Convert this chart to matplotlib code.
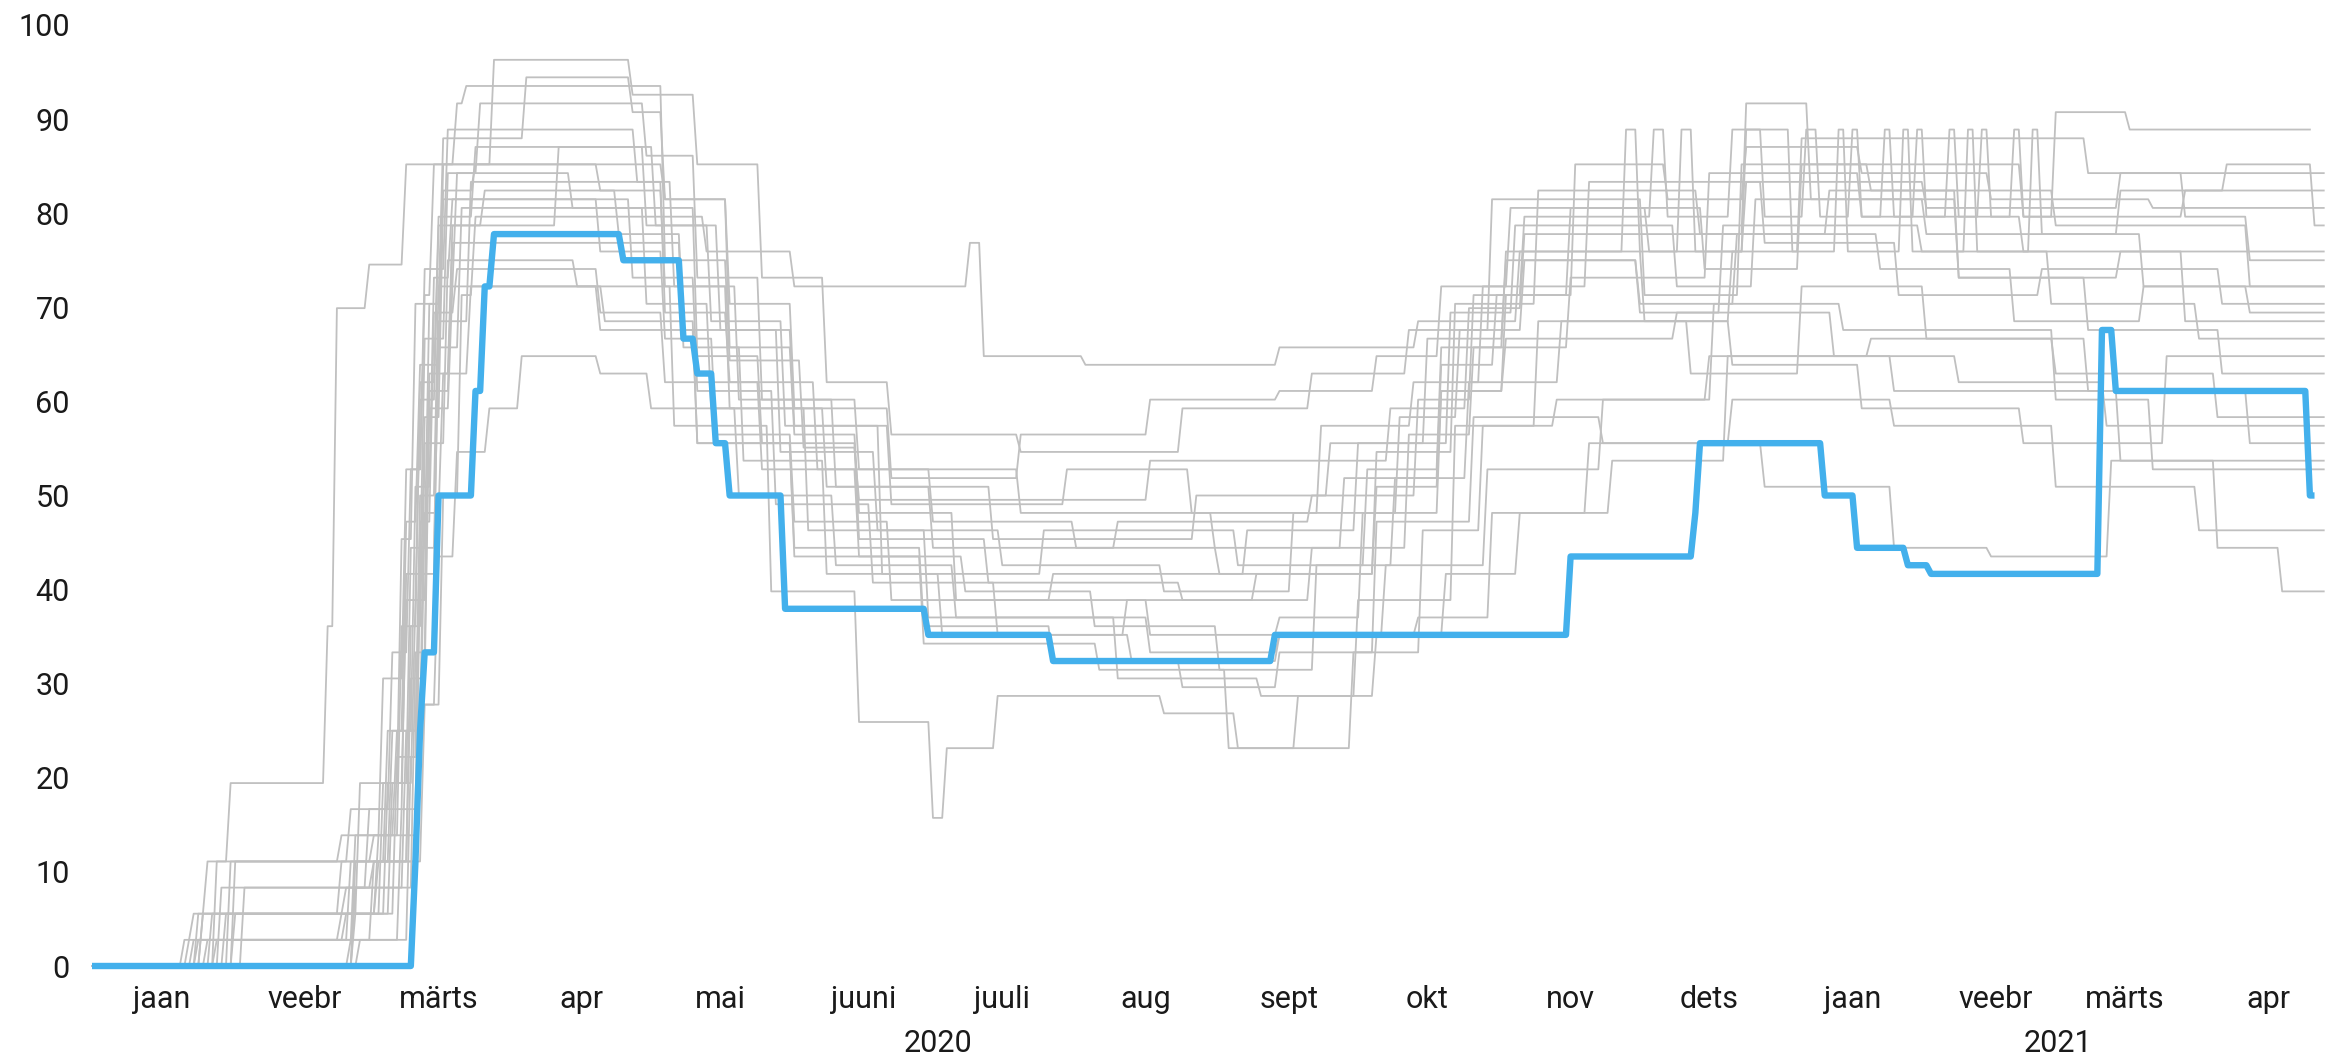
import pandas as pd
import matplotlib
matplotlib.use("Agg")
import matplotlib.pyplot as plt
import matplotlib.transforms as mtransforms

plt.rcParams['font.family'] = ['Roboto', 'DejaVu Sans']

# step series: (date the value starts, value)
estonia = [('2020-01-01', 0), ('2020-03-11', 11.11), ('2020-03-12', 25.0), ('2020-03-13', 33.33),
           ('2020-03-16', 50.0), ('2020-03-24', 61.11), ('2020-03-26', 72.22), ('2020-03-28', 77.78),
           ('2020-04-25', 75.0), ('2020-05-08', 66.67), ('2020-05-11', 62.96), ('2020-05-15', 55.56),
           ('2020-05-18', 50.0), ('2020-05-30', 37.96), ('2020-06-30', 35.19), ('2020-07-27', 32.41),
           ('2020-09-13', 35.19), ('2020-11-16', 43.52), ('2020-12-13', 48.15), ('2020-12-14', 55.56),
           ('2021-01-10', 50.0), ('2021-01-17', 44.44), ('2021-01-28', 42.59), ('2021-02-02', 41.67),
           ('2021-03-11', 67.59), ('2021-03-14', 61.11), ('2021-04-25', 50.0), ('2021-04-26', 50.0)]

g01 = [('2020-01-01', 0), ('2020-01-21', 2.78), ('2020-01-23', 5.56), ('2020-01-26', 11.11), ('2020-01-31', 19.44),
       ('2020-02-21', 36.11), ('2020-02-23', 69.91), ('2020-03-01', 74.54), ('2020-03-09', 85.19),
       ('2020-03-20', 91.67), ('2020-03-22', 93.52), ('2020-05-04', 75.0), ('2020-05-18', 64.35),
       ('2020-06-03', 55.09), ('2020-06-15', 49.54), ('2020-08-17', 53.7), ('2020-10-08', 59.26),
       ('2020-10-25', 69.91), ('2020-11-06', 77.78), ('2020-12-24', 91.67), ('2021-01-07', 81.48),
       ('2021-02-01', 77.78), ('2021-03-15', 82.41), ('2021-04-07', 85.19), ('2021-04-26', 78.7), ('2021-04-28', 78.7)]
g02 = [('2020-01-01', 0), ('2020-01-25', 5.56), ('2020-02-24', 11.11), ('2020-03-05', 25.0), ('2020-03-09', 47.22),
       ('2020-03-12', 63.89), ('2020-03-17', 85.19), ('2020-04-20', 82.41), ('2020-05-04', 72.22),
       ('2020-05-18', 59.26), ('2020-06-08', 50.93), ('2020-07-01', 44.44), ('2020-08-10', 47.22),
       ('2020-09-21', 50.0), ('2020-10-14', 60.19), ('2020-10-26', 71.3), ('2020-11-06', 79.63),
       ('2020-12-04', 88.89), ('2020-12-07', 79.63), ('2020-12-21', 88.89), ('2020-12-28', 79.63),
       ('2021-01-06', 88.89), ('2021-01-09', 79.63), ('2021-01-16', 88.89), ('2021-01-18', 79.63),
       ('2021-01-23', 88.89), ('2021-01-25', 79.63), ('2021-01-30', 88.89), ('2021-02-01', 79.63),
       ('2021-02-06', 88.89), ('2021-02-08', 79.63), ('2021-02-13', 88.89), ('2021-02-15', 79.63),
       ('2021-02-20', 88.89), ('2021-02-22', 79.63), ('2021-03-01', 90.74), ('2021-03-17', 88.89), ('2021-04-25', 88.89)]
g03 = [('2020-01-01', 0), ('2020-01-28', 2.78), ('2020-02-27', 13.89), ('2020-03-08', 36.11), ('2020-03-12', 62.04),
       ('2020-03-16', 79.63), ('2020-03-24', 87.04), ('2020-04-30', 78.7), ('2020-05-14', 68.52),
       ('2020-05-30', 57.41), ('2020-06-20', 41.67), ('2020-07-25', 46.3), ('2020-09-05', 42.59),
       ('2020-10-03', 52.78), ('2020-10-19', 65.74), ('2020-11-02', 75.93), ('2020-11-28', 88.89),
       ('2020-12-01', 75.93), ('2020-12-10', 88.89), ('2020-12-13', 75.93), ('2020-12-24', 88.89),
       ('2021-01-03', 75.93), ('2021-01-13', 88.89), ('2021-01-15', 75.93), ('2021-01-27', 88.89),
       ('2021-01-29', 75.93), ('2021-02-10', 88.89), ('2021-02-12', 75.93), ('2021-02-24', 88.89),
       ('2021-02-26', 77.78), ('2021-03-20', 72.22), ('2021-04-12', 69.44), ('2021-04-28', 69.44)]
g04 = [('2020-01-01', 0), ('2020-01-31', 11.11), ('2020-02-26', 16.67), ('2020-03-06', 33.33), ('2020-03-10', 52.78),
       ('2020-03-13', 71.3), ('2020-03-15', 85.19), ('2020-03-28', 96.3), ('2020-04-27', 92.59),
       ('2020-05-11', 85.19), ('2020-05-25', 73.15), ('2020-06-08', 62.04), ('2020-06-22', 56.48),
       ('2020-07-20', 54.63), ('2020-08-24', 59.26), ('2020-09-21', 62.96), ('2020-10-12', 67.59),
       ('2020-10-30', 81.48), ('2020-12-02', 71.3), ('2020-12-23', 85.19), ('2021-01-20', 82.41),
       ('2021-03-01', 78.7), ('2021-04-12', 72.22), ('2021-04-28', 72.22)]
g05 = [('2020-01-01', 0), ('2020-01-27', 5.56), ('2020-02-28', 19.44), ('2020-03-08', 45.37), ('2020-03-11', 70.37),
       ('2020-03-17', 87.96), ('2020-04-04', 94.44), ('2020-04-27', 90.74), ('2020-05-04', 81.48),
       ('2020-05-18', 65.74), ('2020-06-01', 56.48), ('2020-06-15', 48.15), ('2020-07-06', 38.89),
       ('2020-08-17', 35.19), ('2020-09-14', 37.04), ('2020-10-02', 48.15), ('2020-10-19', 61.11),
       ('2020-11-02', 71.3), ('2020-11-17', 85.19), ('2020-12-07', 81.48), ('2020-12-24', 87.04),
       ('2021-01-18', 84.26), ('2021-02-15', 81.48), ('2021-03-22', 80.56), ('2021-04-28', 80.56)]
g06 = [('2020-01-01', 0), ('2020-02-03', 8.33), ('2020-03-02', 11.11), ('2020-03-13', 27.78), ('2020-03-17', 50.0),
       ('2020-03-21', 71.3), ('2020-03-24', 79.63), ('2020-05-13', 75.93), ('2020-06-01', 72.22),
       ('2020-07-09', 76.85), ('2020-07-12', 64.81), ('2020-08-03', 63.89), ('2020-09-14', 65.74),
       ('2020-10-14', 68.52), ('2020-11-05', 75.93), ('2020-12-02', 68.52), ('2020-12-21', 75.93),
       ('2021-01-05', 87.96), ('2021-03-08', 84.26), ('2021-03-29', 79.63), ('2021-04-12', 75.0), ('2021-04-28', 75.0)]
g07 = [('2020-01-01', 0), ('2020-02-27', 8.33), ('2020-03-09', 25.0), ('2020-03-13', 55.56), ('2020-03-18', 75.0),
       ('2020-04-15', 72.22), ('2020-05-06', 57.41), ('2020-05-27', 39.81), ('2020-06-15', 25.93),
       ('2020-07-01', 15.74), ('2020-07-04', 23.15), ('2020-07-15', 28.7), ('2020-08-20', 26.85),
       ('2020-09-05', 23.15), ('2020-09-18', 28.7), ('2020-10-05', 35.19), ('2020-10-20', 41.67),
       ('2020-11-05', 48.15), ('2020-11-25', 53.7), ('2020-12-20', 64.81), ('2021-01-20', 66.67),
       ('2021-03-01', 62.96), ('2021-04-05', 58.33), ('2021-04-28', 58.33)]
g08 = [('2020-01-01', 0), ('2020-01-24', 2.78), ('2020-03-02', 11.11), ('2020-03-10', 30.56), ('2020-03-14', 59.26),
       ('2020-03-19', 72.22), ('2020-04-20', 67.59), ('2020-05-11', 55.56), ('2020-06-01', 43.52),
       ('2020-06-29', 34.26), ('2020-08-06', 31.48), ('2020-09-03', 23.15), ('2020-09-30', 33.33),
       ('2020-10-15', 46.3), ('2020-10-28', 57.41), ('2020-11-13', 60.19), ('2020-12-16', 64.81),
       ('2021-01-25', 61.11), ('2021-03-15', 53.7), ('2021-04-28', 53.7)]
g09 = [('2020-01-01', 0), ('2020-01-30', 5.56), ('2020-03-03', 13.89), ('2020-03-12', 41.67), ('2020-03-16', 68.52),
       ('2020-03-23', 83.33), ('2020-05-04', 69.44), ('2020-05-18', 62.04), ('2020-06-06', 52.78),
       ('2020-07-01', 47.22), ('2020-08-01', 44.44), ('2020-09-01', 41.67), ('2020-10-05', 54.63),
       ('2020-10-22', 70.37), ('2020-11-09', 82.41), ('2020-12-14', 77.78), ('2021-01-11', 82.41),
       ('2021-02-08', 73.15), ('2021-03-08', 67.59), ('2021-04-06', 62.96), ('2021-04-28', 62.96)]
g10 = [('2020-01-01', 0), ('2020-01-22', 2.78), ('2020-02-25', 5.56), ('2020-03-07', 22.22), ('2020-03-12', 50.0),
       ('2020-03-16', 72.22), ('2020-03-20', 84.26), ('2020-04-14', 80.56), ('2020-05-11', 64.81),
       ('2020-05-25', 55.56), ('2020-06-15', 45.37), ('2020-07-13', 40.74), ('2020-08-24', 38.89),
       ('2020-09-21', 44.44), ('2020-10-12', 56.48), ('2020-10-26', 65.74), ('2020-11-16', 73.15),
       ('2020-12-16', 84.26), ('2021-01-18', 79.63), ('2021-02-22', 75.93), ('2021-03-29', 68.52), ('2021-04-28', 68.52)]
g11 = [('2020-01-01', 0), ('2020-02-01', 5.56), ('2020-03-03', 11.11), ('2020-03-12', 27.78), ('2020-03-16', 43.52),
       ('2020-03-20', 54.63), ('2020-03-27', 59.26), ('2020-04-03', 64.81), ('2020-04-20', 62.96),
       ('2020-05-01', 59.26), ('2020-05-20', 50.0), ('2020-06-10', 42.59), ('2020-07-06', 37.04),
       ('2020-08-17', 33.33), ('2020-09-14', 35.19), ('2020-10-07', 42.59), ('2020-10-29', 52.78),
       ('2020-11-23', 60.19), ('2020-12-17', 70.37), ('2021-01-14', 67.59), ('2021-03-01', 60.19),
       ('2021-03-22', 52.78), ('2021-04-28', 52.78)]
g12 = [('2020-01-01', 0), ('2020-02-27', 5.56), ('2020-03-06', 19.44), ('2020-03-11', 38.89), ('2020-03-14', 61.11),
       ('2020-03-19', 76.85), ('2020-05-08', 65.74), ('2020-05-21', 53.7), ('2020-06-08', 41.67),
       ('2020-07-03', 35.19), ('2020-08-13', 32.41), ('2020-09-14', 35.19), ('2020-10-14', 37.04),
       ('2020-10-30', 48.15), ('2020-11-20', 55.56), ('2020-12-28', 50.93), ('2021-01-25', 44.44),
       ('2021-02-15', 43.52), ('2021-03-13', 53.7), ('2021-04-05', 44.44), ('2021-04-19', 39.81), ('2021-04-28', 39.81)]
g13 = [('2020-01-01', 0), ('2020-01-28', 11.11), ('2020-02-24', 13.89), ('2020-03-04', 30.56), ('2020-03-09', 52.78),
       ('2020-03-13', 74.07), ('2020-03-18', 88.89), ('2020-04-28', 83.33), ('2020-05-06', 72.22),
       ('2020-05-20', 60.19), ('2020-06-10', 50.93), ('2020-07-14', 45.37), ('2020-08-27', 50.0),
       ('2020-09-25', 55.56), ('2020-10-16', 66.67), ('2020-11-02', 75.0), ('2020-12-01', 69.44),
       ('2020-12-19', 78.7), ('2021-01-31', 75.93), ('2021-02-28', 70.37), ('2021-04-01', 66.67), ('2021-04-28', 66.67)]
g14 = [('2020-01-01', 0), ('2020-01-26', 2.78), ('2020-02-26', 11.11), ('2020-03-10', 36.11), ('2020-03-13', 58.33),
       ('2020-03-17', 81.48), ('2020-04-20', 75.93), ('2020-05-04', 66.67), ('2020-05-15', 56.48),
       ('2020-06-01', 47.22), ('2020-06-22', 38.89), ('2020-07-27', 41.67), ('2020-09-07', 46.3),
       ('2020-10-01', 55.56), ('2020-10-21', 69.44), ('2020-11-04', 78.7), ('2020-12-09', 72.22),
       ('2020-12-26', 81.48), ('2021-02-08', 73.15), ('2021-03-15', 75.93), ('2021-04-28', 75.93)]
g15 = [('2020-01-01', 0), ('2020-01-29', 8.33), ('2020-03-01', 16.67), ('2020-03-09', 41.67), ('2020-03-13', 66.67),
       ('2020-03-18', 84.26), ('2020-03-25', 91.67), ('2020-04-30', 86.11), ('2020-05-11', 73.15),
       ('2020-05-25', 60.19), ('2020-06-15', 52.78), ('2020-07-20', 48.15), ('2020-08-31', 44.44),
       ('2020-09-28', 51.85), ('2020-10-19', 63.89), ('2020-10-31', 71.3), ('2020-11-16', 80.56),
       ('2020-12-15', 74.07), ('2021-01-05', 85.19), ('2021-02-22', 79.63), ('2021-03-29', 82.41), ('2021-04-28', 82.41)]
g16 = [('2020-01-01', 0), ('2020-02-28', 2.78), ('2020-03-08', 16.67), ('2020-03-12', 44.44), ('2020-03-16', 65.74),
       ('2020-03-21', 80.56), ('2020-04-30', 70.37), ('2020-05-14', 59.26), ('2020-06-04', 46.3),
       ('2020-06-30', 37.04), ('2020-08-10', 30.56), ('2020-09-10', 28.7), ('2020-10-01', 38.89),
       ('2020-10-22', 57.41), ('2020-11-09', 68.52), ('2020-12-21', 63.89), ('2021-01-18', 59.26),
       ('2021-02-22', 55.56), ('2021-03-25', 64.81), ('2021-04-28', 64.81)]
g17 = [('2020-01-01', 0), ('2020-01-24', 5.56), ('2020-02-25', 8.33), ('2020-03-11', 33.33), ('2020-03-14', 62.96),
       ('2020-03-19', 78.7), ('2020-04-11', 87.04), ('2020-05-02', 78.7), ('2020-05-16', 67.59),
       ('2020-06-01', 57.41), ('2020-06-22', 49.07), ('2020-07-30', 52.78), ('2020-08-26', 48.15),
       ('2020-09-23', 57.41), ('2020-10-13', 62.04), ('2020-10-28', 72.22), ('2020-11-20', 83.33),
       ('2020-12-28', 76.85), ('2021-01-26', 71.3), ('2021-02-26', 74.07), ('2021-04-06', 70.37), ('2021-04-28', 70.37)]
g18 = [('2020-01-01', 0), ('2020-02-01', 11.11), ('2020-03-02', 13.89), ('2020-03-07', 25.0), ('2020-03-12', 47.22),
       ('2020-03-15', 69.44), ('2020-03-20', 74.07), ('2020-04-20', 69.44), ('2020-05-04', 62.04),
       ('2020-05-25', 52.78), ('2020-06-15', 43.52), ('2020-07-08', 39.81), ('2020-08-05', 36.11),
       ('2020-09-01', 31.48), ('2020-09-22', 42.59), ('2020-10-09', 51.85), ('2020-10-25', 62.04),
       ('2020-11-14', 68.52), ('2020-12-12', 62.96), ('2021-01-05', 72.22), ('2021-02-01', 66.67),
       ('2021-03-08', 61.11), ('2021-04-12', 55.56), ('2021-04-28', 55.56)]
g19 = [('2020-01-01', 0), ('2020-01-23', 2.78), ('2020-02-24', 5.56), ('2020-03-05', 19.44), ('2020-03-10', 44.44),
       ('2020-03-14', 70.37), ('2020-03-17', 82.41), ('2020-03-24', 85.19), ('2020-05-04', 81.48),
       ('2020-05-18', 70.37), ('2020-06-01', 59.26), ('2020-06-22', 51.85), ('2020-07-20', 56.48),
       ('2020-08-17', 60.19), ('2020-09-14', 61.11), ('2020-10-05', 64.81), ('2020-10-19', 72.22),
       ('2020-11-03', 80.56), ('2020-12-03', 75.93), ('2020-12-24', 83.33), ('2021-02-01', 80.56),
       ('2021-03-15', 84.26), ('2021-04-28', 84.26)]
g20 = [('2020-01-01', 0), ('2020-02-26', 2.78), ('2020-03-10', 22.22), ('2020-03-13', 48.15), ('2020-03-17', 62.96),
       ('2020-03-23', 72.22), ('2020-04-21', 68.52), ('2020-05-11', 55.56), ('2020-06-01', 44.44),
       ('2020-06-29', 36.11), ('2020-07-27', 32.41), ('2020-08-24', 29.63), ('2020-09-14', 33.33),
       ('2020-10-05', 47.22), ('2020-10-26', 58.33), ('2020-11-23', 55.56), ('2020-12-21', 60.19),
       ('2021-01-25', 57.41), ('2021-03-01', 50.93), ('2021-04-01', 46.3), ('2021-04-28', 46.3)]
g21 = [('2020-01-01', 0), ('2020-01-25', 5.56), ('2020-03-04', 19.44), ('2020-03-09', 38.89), ('2020-03-12', 60.19),
       ('2020-03-16', 78.7), ('2020-03-26', 82.41), ('2020-04-24', 77.78), ('2020-05-08', 67.59),
       ('2020-05-29', 54.63), ('2020-06-19', 46.3), ('2020-07-16', 42.59), ('2020-08-20', 39.81),
       ('2020-09-17', 48.15), ('2020-10-10', 58.33), ('2020-10-23', 67.59), ('2020-11-06', 75.0),
       ('2020-12-01', 70.37), ('2020-12-22', 77.78), ('2021-01-22', 74.07), ('2021-02-20', 68.52),
       ('2021-03-20', 72.22), ('2021-04-28', 72.22)]
g22 = [('2020-01-01', 0), ('2020-02-27', 11.11), ('2020-03-06', 25.0), ('2020-03-11', 50.93), ('2020-03-15', 73.15),
       ('2020-03-19', 81.48), ('2020-04-27', 73.15), ('2020-05-11', 61.11), ('2020-05-28', 49.07),
       ('2020-06-18', 40.74), ('2020-07-15', 35.19), ('2020-08-12', 38.89), ('2020-09-09', 41.67),
       ('2020-10-05', 50.93), ('2020-10-19', 61.11), ('2020-11-02', 66.67), ('2020-12-09', 69.44),
       ('2021-01-12', 64.81), ('2021-02-08', 62.04), ('2021-03-12', 57.41), ('2021-04-28', 57.41)]

others = [g01, g02, g03, g04, g05, g06, g07, g08, g09, g10, g11, g12,
          g13, g14, g15, g16, g17, g18, g19, g20, g21, g22]

month_labels = ['jaan', 'veebr', 'märts', 'apr', 'mai', 'juuni', 'juuli', 'aug',
                'sept', 'okt', 'nov', 'dets', 'jaan', 'veebr', 'märts', 'apr']
years = ['2020', '2021']

x_start = pd.Timestamp('2020-01-01')
x_end = pd.Timestamp('2021-04-30')


def daily(steps):
    # the index holds its value until the next change, one point per day
    s = pd.Series([v for _, v in steps], index=pd.to_datetime([d for d, _ in steps]))
    s = s[~s.index.duplicated(keep='last')]
    return s.resample('D').ffill()


fig = plt.figure(figsize=(23.33, 10.57), dpi=100)
ax = fig.add_axes([92 / 2333, 1 - 966 / 1057, 1 - 92 / 2333, (966 - 25) / 1057])

for steps in others:
    s = daily(steps)
    ax.plot(s.index, s.values, color='#c0c0c0', lw=1.3, clip_on=False, zorder=2)

est = daily(estonia)
ax.plot(est.index, est.values, color='#43b0ec', lw=4.6, clip_on=False, zorder=3,
        solid_joinstyle='round', solid_capstyle='butt')

ax.set_xlim(x_start, x_end)
ax.set_ylim(0, 100)
ax.set_yticks(range(0, 101, 10))
ax.tick_params(axis='y', length=0, pad=16, labelsize=22, labelcolor='#1a1a1a')

mids = pd.date_range('2020-01-01', periods=16, freq='MS') + pd.Timedelta(days=15)
ax.set_xticks(mids)
ax.set_xticklabels(month_labels)
ax.tick_params(axis='x', length=0, pad=14, labelsize=22, labelcolor='#1a1a1a')

for sp in ax.spines.values():
    sp.set_visible(False)

trans = mtransforms.blended_transform_factory(ax.transData, ax.transAxes)
year_mid = [x_start + (pd.Timestamp('2021-01-01') - x_start) / 2,
            pd.Timestamp('2021-01-01') + (x_end - pd.Timestamp('2021-01-01')) / 2]
for xm, lab in zip(year_mid, years):
    ax.text(xm, -0.082, lab, transform=trans, ha='center', va='center',
            fontsize=22, color='#1a1a1a')

fig.savefig('out.png', dpi=100)
